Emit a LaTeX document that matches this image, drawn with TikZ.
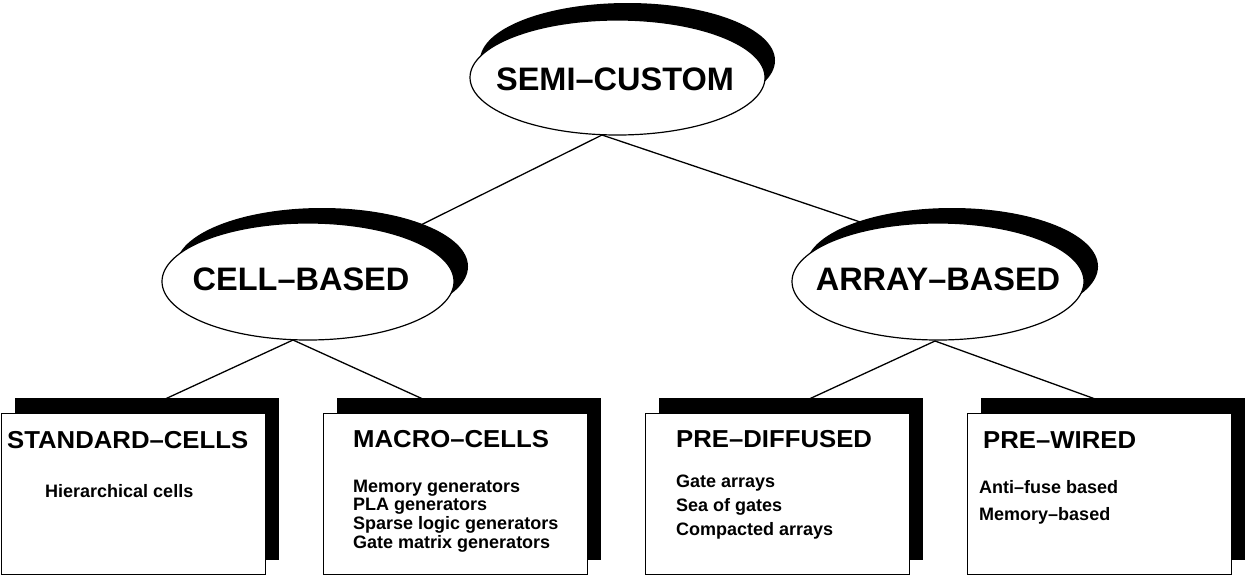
\documentclass[tikz,border=0pt]{standalone}
\usepackage{fontspec}
\setmainfont{Liberation Sans}
\newfontfamily\ttlfont[FakeStretch=1.05]{Liberation Sans}
\usetikzlibrary{shapes.geometric}
\begin{document}
\begin{tikzpicture}[x=1pt,y=-1pt,
  ellshadow/.style={ellipse, fill=black, draw=none, inner sep=0, minimum width=292pt, minimum height=117pt},
  ellwhite/.style={ellipse, fill=white, draw=black, line width=1.2pt, inner sep=0, minimum width=292pt, minimum height=117pt},
  conn/.style={draw=black, line width=1.3pt},
  boxshadow/.style={rectangle, fill=black, draw=none, inner sep=0, anchor=north west, minimum width=264pt, minimum height=162pt},
  boxwhite/.style={rectangle, fill=white, draw=black, line width=1pt, inner sep=0, anchor=north west, minimum width=264pt, minimum height=161pt},
  ttl/.style={font=\ttlfont\fontsize{24.5}{26}\selectfont\bfseries, inner sep=0, anchor=base west},
  body/.style={font=\fontsize{18}{19}\selectfont\bfseries, inner sep=0, anchor=base west},
  ellt/.style={font=\fontsize{32.5}{34}\selectfont\bfseries, inner sep=0, anchor=base},
]
\useasboundingbox (0,0) rectangle (1246,576);
% junction points
\coordinate (j0) at (602,135);
\coordinate (j1) at (293,340);
\coordinate (j2) at (935,341);
\coordinate (cIn) at (308,281);
\coordinate (aIn) at (875,227);
\coordinate (b1) at (163,400);
\coordinate (b2) at (425,400);
\coordinate (b3) at (807,400);
\coordinate (b4) at (1098,400);
% connectors
\draw[conn] (j0) -- (cIn);
\draw[conn] (j0) -- (aIn);
\draw[conn] (j1) -- (b1);
\draw[conn] (j1) -- (b2);
\draw[conn] (j2) -- (b3);
\draw[conn] (j2) -- (b4);
% ellipses
\node[ellshadow, minimum width=295pt, minimum height=115pt] (topS) at (627.5,60.5) {};
\node[ellwhite, minimum width=295pt, minimum height=115pt] (top) at (617.5,77.5) {};
\node[ellshadow] (cellS) at (322,266.5) {};
\node[ellwhite] (cell) at (308,281.5) {};
\node[ellshadow] (arrS) at (952,266.5) {};
\node[ellwhite] (arr) at (938,281.5) {};
\node[ellt] (topT) at (615,90) {SEMI–CUSTOM};
\node[ellt] (cellT) at (301,290) {CELL–BASED};
\node[ellt] (arrT) at (938,290) {ARRAY–BASED};
% boxes
\node[boxshadow] (s1S) at (15,398) {};
\node[boxwhite] (s1) at (1,413) {};
\node[boxshadow] (s2S) at (337,398) {};
\node[boxwhite] (s2) at (323,413) {};
\node[boxshadow] (s3S) at (659,398) {};
\node[boxwhite] (s3) at (645,413) {};
\node[boxshadow] (s4S) at (981,398) {};
\node[boxwhite] (s4) at (967,413) {};
% box texts
\node[ttl] (t1) at (7,448) {STANDARD–CELLS};
\node[body] (t1a) at (45,497) {Hierarchical cells};
\node[ttl] (t2) at (353,447) {MACRO–CELLS};
\node[body] (t2a) at (353,492) {Memory generators};
\node[body] (t2b) at (353,510.7) {PLA generators};
\node[body] (t2c) at (353,529.4) {Sparse logic generators};
\node[body] (t2d) at (353,548) {Gate matrix generators};
\node[ttl] (t3) at (676,447) {PRE–DIFFUSED};
\node[body] (t3a) at (676,487) {Gate arrays};
\node[body] (t3b) at (676,511) {Sea of gates};
\node[body] (t3c) at (676,535) {Compacted arrays};
\node[ttl] (t4) at (983,448) {PRE–WIRED};
\node[body] (t4a) at (979,493) {Anti–fuse based};
\node[body] (t4b) at (979,520) {Memory–based};
\end{tikzpicture}
\end{document}
